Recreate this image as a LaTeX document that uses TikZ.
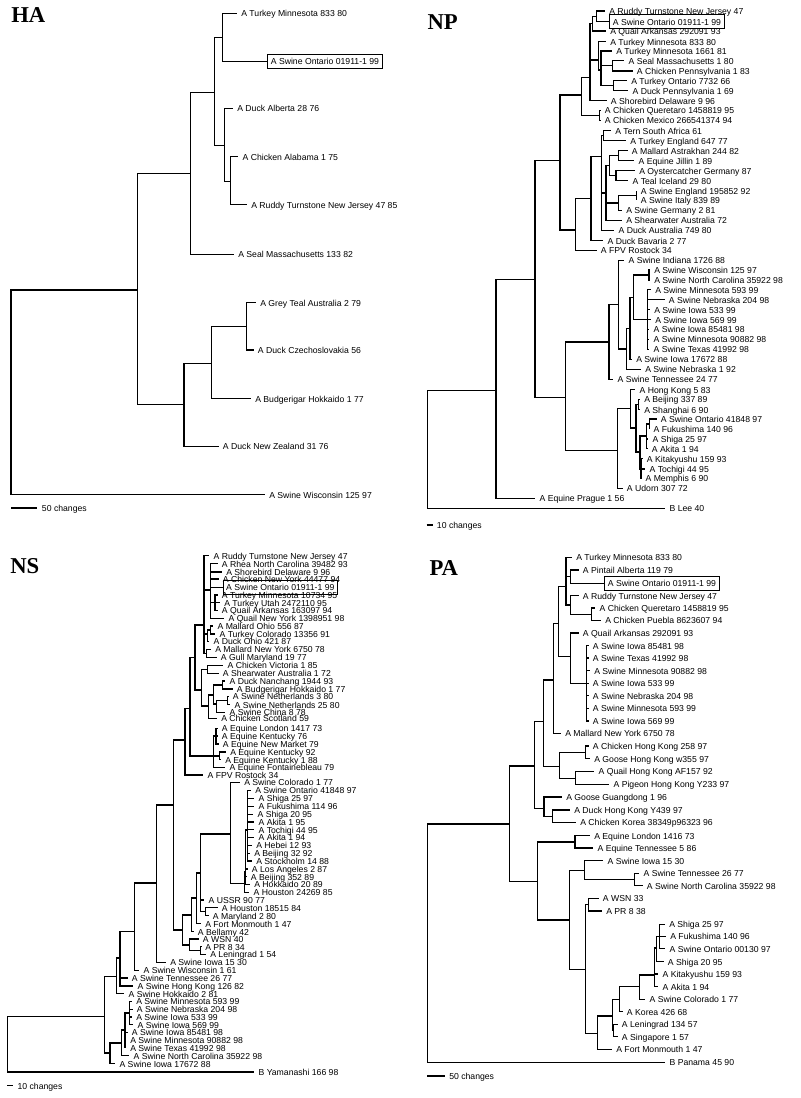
\documentclass[tikz,border=0pt]{standalone}
\usepackage{fontspec}
\setmainfont{Liberation Serif}
\setsansfont{Liberation Sans}
\newcommand{\leafFont}{\sffamily\fontsize{6.5}{7}\selectfont}
\newcommand{\ttlFont}{\rmfamily\bfseries\fontsize{17}{17}\selectfont}
\begin{document}
\begin{tikzpicture}[x=0.75pt, y=-0.75pt,
            br/.style={line width=0.8pt, black},
            leaf/.style={anchor=west, xshift=-3pt, inner xsep=3pt, inner ysep=0pt, font=\leafFont, text height=0.7em, text depth=0.15em},
            boxleaf/.style={anchor=west, draw, line width=0.5pt, inner xsep=2.4pt, inner ysep=0.9pt, font=\leafFont, text height=0.7em, text depth=0.15em},
            ttl/.style={anchor=base west, inner sep=0pt, font=\ttlFont},
        ]
        \useasboundingbox (0,0) rectangle (800,1098);
        \fill[white] (0,0) rectangle (800,1098);
        % Titles of the four panels
        \node[ttl] (haT) at (11,22.7) {HA};
        \node[ttl] (npT) at (427.3,29.3) {NP};
        \node[ttl] (nsT) at (10,573.3) {NS};
        \node[ttl] (paT) at (429.3,575) {PA};

        % ---------------- HA ----------------
        \node[leaf] (ha1) at (241,13.3) {A Turkey Minnesota 833 80};
        \node[boxleaf] (ha2) at (267.3,61.3) {A Swine Ontario 01911-1 99};
        \node[leaf] (ha3) at (237,108.3) {A Duck Alberta 28 76};
        \node[leaf] (ha4) at (242.3,156.7) {A Chicken Alabama 1 75};
        \node[leaf] (ha5) at (251,204.7) {A Ruddy Turnstone New Jersey 47 85};
        \node[leaf] (ha6) at (238,254.3) {A Seal Massachusetts 133 82};
        \node[leaf] (ha7) at (260,302.7) {A Grey Teal Australia 2 79};
        \node[leaf] (ha8) at (257.7,350) {A Duck Czechoslovakia 56};
        \node[leaf] (ha9) at (255,398.7) {A Budgerigar Hokkaido 1 77};
        \node[leaf] (ha10) at (222.7,446.3) {A Duck New Zealand 31 76};
        \node[leaf] (ha11) at (269,494.7) {A Swine Wisconsin 125 97};
        \coordinate (haR) at (11,392);
        \coordinate (haA) at (137.7,290);
        \coordinate (haB) at (190.3,173.7);
        \coordinate (haC) at (184,404.7);
        \coordinate (haD) at (214.3,92.3);
        \coordinate (haE) at (222.3,37.7);
        \coordinate (haF) at (224.3,145.7);
        \coordinate (haG) at (230.3,181.7);
        \coordinate (haH) at (211.3,363.3);
        \coordinate (haI) at (246.7,326.7);
        \foreach \p/\c in {haR/haA, haR/ha11, haA/haB, haA/haC, haB/haD, haB/ha6,
                haD/haE, haD/haF, haE/ha1, haE/ha2, haF/ha3, haF/haG, haG/ha4, haG/ha5,
                haC/haH, haC/ha10, haH/haI, haH/ha9, haI/ha7, haI/ha8}
            \draw[br] (\p) |- (\c);

        % ---------------- NP ----------------
        \node[leaf] (np1) at (609,11) {A Ruddy Turnstone New Jersey 47};
        \node[boxleaf] (np2) at (609.3,21.7) {A Swine Ontario 01911-1 99};
        \node[leaf] (np3) at (610,31) {A Quail Arkansas 292091 93};
        \node[leaf] (np4) at (610,41.7) {A Turkey Minnesota 833 80};
        \node[leaf] (np5) at (616,51) {A Turkey Minnesota 1661 81};
        \node[leaf] (np6) at (628.3,60.7) {A Seal Massachusetts 1 80};
        \node[leaf] (np7) at (636.7,71) {A Chicken Pennsylvania 1 83};
        \node[leaf] (np8) at (631,80.7) {A Turkey Ontario 7732 66};
        \node[leaf] (np9) at (632.3,90.7) {A Duck Pennsylvania 1 69};
        \node[leaf] (np10) at (610.7,100.7) {A Shorebird Delaware 9 96};
        \node[leaf] (np11) at (604.7,110.3) {A Chicken Queretaro 1458819 95};
        \node[leaf] (np12) at (604.7,120.3) {A Chicken Mexico 266541374 94};
        \node[leaf] (np13) at (615,130.7) {A Tern South Africa 61};
        \node[leaf] (np14) at (630,140.7) {A Turkey England 647 77};
        \node[leaf] (np15) at (631.7,150.7) {A Mallard Astrakhan 244 82};
        \node[leaf] (np16) at (638.3,160.7) {A Equine Jillin 1 89};
        \node[leaf] (np17) at (639,170.7) {A Oystercatcher Germany 87};
        \node[leaf] (np18) at (632.3,180.7) {A Teal Iceland 29 80};
        \node[leaf] (np19) at (640.7,190.7) {A Swine England 195852 92};
        \node[leaf] (np20) at (640.7,200.3) {A Swine Italy 839 89};
        \node[leaf] (np21) at (626,210.3) {A Swine Germany 2 81};
        \node[leaf] (np22) at (626,220.3) {A Shearwater Australia 72};
        \node[leaf] (np23) at (618.3,230.3) {A Duck Australia 749 80};
        \node[leaf] (np24) at (607.3,240.7) {A Duck Bavaria 2 77};
        \node[leaf] (np25) at (600.7,250.3) {A FPV Rostock 34};
        \node[leaf] (np26) at (628.3,260.3) {A Swine Indiana 1726 88};
        \node[leaf] (np27) at (654,270) {A Swine Wisconsin 125 97};
        \node[leaf] (np28) at (654,280) {A Swine North Carolina 35922 98};
        \node[leaf] (np29) at (655,289.7) {A Swine Minnesota 593 99};
        \node[leaf] (np30) at (668.7,299.7) {A Swine Nebraska 204 98};
        \node[leaf] (np31) at (654,309.7) {A Swine Iowa 533 99};
        \node[leaf] (np32) at (655,319.7) {A Swine Iowa 569 99};
        \node[leaf] (np33) at (653.3,329.3) {A Swine Iowa 85481 98};
        \node[leaf] (np34) at (653.3,339.3) {A Swine Minnesota 90882 98};
        \node[leaf] (np35) at (653.3,349.3) {A Swine Texas 41992 98};
        \node[leaf] (np36) at (636,359.3) {A Swine Iowa 17672 88};
        \node[leaf] (np37) at (645,369.3) {A Swine Nebraska 1 92};
        \node[leaf] (np38) at (617.3,379.3) {A Swine Tennessee 24 77};
        \node[leaf] (np39) at (639.3,389.7) {A Hong Kong 5 83};
        \node[leaf] (np40) at (644,399.3) {A Beijing 337 89};
        \node[leaf] (np41) at (644,409.7) {A Shanghai 6 90};
        \node[leaf] (np42) at (660.7,419) {A Swine Ontario 41848 97};
        \node[leaf] (np43) at (653.3,429) {A Fukushima 140 96};
        \node[leaf] (np44) at (652.3,439) {A Shiga 25 97};
        \node[leaf] (np45) at (651.7,448.7) {A Akita 1 94};
        \node[leaf] (np46) at (646.7,458.7) {A Kitakyushu 159 93};
        \node[leaf] (np47) at (649.3,469) {A Tochigi 44 95};
        \node[leaf] (np48) at (645.3,478.3) {A Memphis 6 90};
        \node[leaf] (np49) at (626.7,488.3) {A Udorn 307 72};
        \node[leaf] (np50) at (539.3,498.3) {A Equine Prague 1 56};
        \node[leaf] (np51) at (669.3,508.3) {B Lee 40};
        \coordinate (npR) at (427.3,450);
        \coordinate (npN1) at (496,390.7);
        \coordinate (npN2) at (535,279.3);
        \coordinate (npN3) at (560,160.7);
        \coordinate (npN4) at (565.7,397.3);
        \coordinate (npN5) at (581.7,95);
        \coordinate (npN6) at (575.7,230);
        \coordinate (npN7) at (590,77.7);
        \coordinate (npN8) at (599.5,115.3);
        \coordinate (npN9) at (592.7,23.3);
        \coordinate (npN10) at (596.7,16.4);
        \coordinate (npN11) at (598.3,60);
        \coordinate (npN12) at (601,70);
        \coordinate (npN13) at (612.3,65.8);
        \coordinate (npN14) at (613.3,85.7);
        \coordinate (npN15) at (591,198.3);
        \coordinate (npN16) at (603.5,135.7);
        \coordinate (npN17) at (601.7,156.7);
        \coordinate (npN18) at (606,193);
        \coordinate (npN19) at (609.3,165.7);
        \coordinate (npN20) at (618.3,203);
        \coordinate (npN21) at (618.3,155.7);
        \coordinate (npN22) at (616,175.7);
        \coordinate (npN23) at (636.7,195.5);
        \coordinate (npN24) at (609,342);
        \coordinate (npN25) at (617.3,450.7);
        \coordinate (npN26) at (618.3,304.6);
        \coordinate (npN27) at (626.7,349);
        \coordinate (npN28) at (630,328.4);
        \coordinate (npN29) at (633.3,297.5);
        \coordinate (npN30) at (649,275);
        \coordinate (npN31) at (647.5,319.5);
        \coordinate (npN32) at (630.7,408.9);
        \coordinate (npN33) at (636,428);
        \coordinate (npN34) at (638.7,404.5);
        \coordinate (npN35) at (646.7,436);
        \coordinate (npN37) at (649.3,424);
        \coordinate (npN38) at (641,469);
        \coordinate (npN39) at (640,452);
        \foreach \p/\c in {npR/npN1, npR/np51, npN1/npN2, npN1/np50, npN2/npN3, npN2/npN4,
                npN3/npN5, npN3/npN6, npN5/npN7, npN5/npN8, npN8/np11, npN8/np12,
                npN7/npN9, npN7/npN11, npN7/np10, npN9/npN10, npN9/np3, npN10/np1, npN10/np2,
                npN11/np4, npN11/npN12, npN12/np5, npN12/npN13, npN12/npN14,
                npN13/np6, npN13/np7, npN14/np8, npN14/np9,
                npN6/npN15, npN6/np25, npN15/npN17, npN15/np24, npN17/npN16, npN17/npN18, npN17/np23,
                npN16/np13, npN16/np14, npN18/npN19, npN18/npN20, npN18/np22,
                npN19/npN21, npN19/npN22, npN21/np15, npN21/np16, npN22/np17, npN22/np18,
                npN20/npN23, npN20/np21, npN23/np19, npN23/np20,
                npN4/npN24, npN4/npN25, npN24/npN26, npN24/np38, npN26/np26, npN26/npN27,
                npN27/npN28, npN27/np37, npN28/npN29, npN28/np36, npN29/npN30, npN29/npN31,
                npN30/np27, npN30/np28, npN31/np29, npN31/np30, npN31/np31, npN31/np32,
                npN31/np33, npN31/np34, npN31/np35,
                npN25/npN32, npN25/np49, npN32/np39, npN32/npN33, npN33/npN34, npN33/npN39,
                npN34/np40, npN34/np41, npN39/npN35, npN39/npN38, npN35/npN37, npN35/np44,
                npN35/np45, npN37/np42, npN37/np43, npN38/np46, npN38/np47, npN38/np48}
            \draw[br] (\p) |- (\c);

        % ---------------- NS ----------------
        \node[leaf] (ns1) at (213.3,555.7) {A Ruddy Turnstone New Jersey 47};
        \node[leaf] (ns2) at (221.7,563.7) {A Rhea North Carolina 39482 93};
        \node[leaf] (ns3) at (226,572) {A Shorebird Delaware 9 96};
        \node[leaf] (ns4) at (222.7,579) {A Chicken New York 44477 94};
        \node[boxleaf] (ns5) at (222.7,587.2) {A Swine Ontario 01911-1 99};
        \node[leaf] (ns6) at (221.7,595) {A Turkey Minnesota 10734 95};
        \node[leaf] (ns7) at (224,602.7) {A Turkey Utah 2472110 95};
        \node[leaf] (ns8) at (221.7,610.3) {A Quail Arkansas 163097 94};
        \node[leaf] (ns9) at (228.3,618.3) {A Quail New York 1398951 98};
        \node[leaf] (ns10) at (217.3,626) {A Mallard Ohio 556 87};
        \node[leaf] (ns11) at (219.3,634) {A Turkey Colorado 13356 91};
        \node[leaf] (ns12) at (213.3,641.3) {A Duck Ohio 421 87};
        \node[leaf] (ns13) at (215,649.3) {A Mallard New York 6750 78};
        \node[leaf] (ns14) at (220.7,657.3) {A Gull Maryland 19 77};
        \node[leaf] (ns15) at (227.3,665.3) {A Chicken Victoria 1 85};
        \node[leaf] (ns16) at (222.7,673.3) {A Shearwater Australia 1 72};
        \node[leaf] (ns17) at (229.3,681) {A Duck Nanchang 1944 93};
        \node[leaf] (ns18) at (236.7,689) {A Budgerigar Hokkaido 1 77};
        \node[leaf] (ns19) at (232.7,696.3) {A Swine Netherlands 3 80};
        \node[leaf] (ns20) at (234.3,704.7) {A Swine Netherlands 25 80};
        \node[leaf] (ns21) at (229.3,712.3) {A Swine China 8 78};
        \node[leaf] (ns22) at (221,718.3) {A Chicken Scotland 59};
        \node[leaf] (ns23) at (221.7,728.3) {A Equine London 1417 73};
        \node[leaf] (ns24) at (221.7,736) {A Equine Kentucky 76};
        \node[leaf] (ns25) at (222.7,744) {A Equine New Market 79};
        \node[leaf] (ns26) at (230,752) {A Equine Kentucky 92};
        \node[leaf] (ns27) at (225,759.7) {A Equine Kentucky 1 88};
        \node[leaf] (ns28) at (229.3,767.3) {A Equine Fontainebleau 79};
        \node[leaf] (ns29) at (207.3,775) {A FPV Rostock 34};
        \node[leaf] (ns30) at (244,782.3) {A Swine Colorado 1 77};
        \node[leaf] (ns31) at (255,790.3) {A Swine Ontario 41848 97};
        \node[leaf] (ns32) at (258.3,798.3) {A Shiga 25 97};
        \node[leaf] (ns33) at (258.3,806.3) {A Fukushima 114 96};
        \node[leaf] (ns34) at (257.3,814.3) {A Shiga 20 95};
        \node[leaf] (ns35) at (258.3,822) {A Akita 1 95};
        \node[leaf] (ns36) at (258.3,829.7) {A Tochigi 44 95};
        \node[leaf] (ns37) at (258.3,837.3) {A Akita 1 94};
        \node[leaf] (ns38) at (256,845.3) {A Hebei 12 93};
        \node[leaf] (ns39) at (254,853.3) {A Beijing 32 92};
        \node[leaf] (ns40) at (256,861) {A Stockholm 14 88};
        \node[leaf] (ns41) at (251.7,869) {A Los Angeles 2 87};
        \node[leaf] (ns42) at (250.7,876.7) {A Beijing 352 89};
        \node[leaf] (ns43) at (254,884.3) {A Hokkaido 20 89};
        \node[leaf] (ns44) at (253.3,892.3) {A Houston 24269 85};
        \node[leaf] (ns45) at (208.3,900) {A USSR 90 77};
        \node[leaf] (ns46) at (221.7,907.7) {A Houston 18515 84};
        \node[leaf] (ns47) at (212.7,915.7) {A Maryland 2 80};
        \node[leaf] (ns48) at (205,923.7) {A Fort Monmouth 1 47};
        \node[leaf] (ns49) at (197.7,931.7) {A Bellamy 42};
        \node[leaf] (ns50) at (202.7,939) {A WSN 40};
        \node[leaf] (ns51) at (205,946.7) {A PR 8 34};
        \node[leaf] (ns52) at (210,954.3) {A Leningrad 1 54};
        \node[leaf] (ns53) at (170,962.3) {A Swine Iowa 15 30};
        \node[leaf] (ns54) at (143.3,970.3) {A Swine Wisconsin 1 61};
        \node[leaf] (ns55) at (131.7,978) {A Swine Tennessee 26 77};
        \node[leaf] (ns56) at (137.3,986) {A Swine Hong Kong 126 82};
        \node[leaf] (ns57) at (128.3,993.7) {A Swine Hokkaido 2 81};
        \node[leaf] (ns58) at (136,1001.3) {A Swine Minnesota 593 99};
        \node[leaf] (ns59) at (136.7,1009.3) {A Swine Nebraska 204 98};
        \node[leaf] (ns60) at (136,1017) {A Swine Iowa 533 99};
        \node[leaf] (ns61) at (137.3,1024.7) {A Swine Iowa 569 99};
        \node[leaf] (ns62) at (131.7,1032.3) {A Swine Iowa 85481 98};
        \node[leaf] (ns63) at (130,1040.3) {A Swine Minnesota 90882 98};
        \node[leaf] (ns64) at (130,1047.7) {A Swine Texas 41992 98};
        \node[leaf] (ns65) at (133.3,1055.7) {A Swine North Carolina 35922 98};
        \node[leaf] (ns66) at (119.3,1063.7) {A Swine Iowa 17672 88};
        \node[leaf] (ns67) at (258.3,1072) {B Yamanashi 166 98};
        \coordinate (nsR) at (7.3,1044);
        \coordinate (nsN1) at (104.3,1016.7);
        \coordinate (nsN2) at (116.7,976.7);
        \coordinate (nsN3) at (110,1053);
        \coordinate (nsN3a) at (121.7,1043);
        \coordinate (nsN3b) at (125,1030);
        \coordinate (nsN3c) at (129.3,1013);
        \coordinate (nsN4) at (120,958);
        \coordinate (nsN5) at (134.3,931.7);
        \coordinate (nsN6) at (156.7,883);
        \coordinate (nsN7) at (173.3,805);
        \coordinate (nsN8) at (185,740);
        \coordinate (nsN9) at (182.7,930);
        \coordinate (nsN10) at (191.7,915);
        \coordinate (nsN11) at (189.3,945);
        \coordinate (nsN12) at (200.5,950.5);
        \coordinate (nsN13) at (196.7,898);
        \coordinate (nsN14) at (200.5,873);
        \coordinate (nsN15) at (230.7,834);
        \coordinate (nsN16) at (205.3,911.7);
        \coordinate (nsN17) at (244.7,883.3);
        \coordinate (nsN18) at (245.8,872);
        \coordinate (nsN19) at (247.5,830);
        \coordinate (nsN20) at (190,708.3);
        \coordinate (nsN22) at (213.3,756);
        \coordinate (nsN23) at (216,736);
        \coordinate (nsN24) at (219.3,756);
        \coordinate (nsNa) at (204,625);
        \coordinate (nsNb) at (210.7,590);
        \coordinate (nsNc) at (207.3,634);
        \coordinate (nsNd) at (206.7,653.3);
        \coordinate (nsNe) at (215,602.7);
        \coordinate (nsNf) at (210.7,630);
        \coordinate (nsNg) at (195,657.5);
        \coordinate (nsNh) at (201.7,690);
        \coordinate (nsNi) at (207.3,669.3);
        \coordinate (nsNj) at (208.3,706);
        \coordinate (nsNk) at (213.3,695);
        \coordinate (nsNl) at (222.7,685);
        \coordinate (nsNm) at (216.7,704);
        \coordinate (nsNn) at (227.5,700.5);
        \foreach \p/\c in {nsR/nsN1, nsR/ns67, nsN1/nsN2, nsN1/nsN3, nsN3/nsN3a, nsN3/ns66,
                nsN3a/nsN3b, nsN3a/ns65, nsN3b/nsN3c, nsN3b/ns62, nsN3b/ns63, nsN3b/ns64,
                nsN3c/ns58, nsN3c/ns59, nsN3c/ns60, nsN3c/ns61,
                nsN2/nsN4, nsN2/ns57, nsN4/nsN5, nsN4/ns55, nsN4/ns56, nsN5/nsN6, nsN5/ns54,
                nsN6/nsN7, nsN6/ns53, nsN7/nsN8, nsN7/nsN9, nsN8/nsN20, nsN8/ns29,
                nsN20/nsNg, nsN20/nsN22, nsNg/nsNa, nsNg/nsNh,
                nsNa/ns1, nsNa/nsNb, nsNa/nsNc, nsNa/nsNd,
                nsNb/ns2, nsNb/ns3, nsNb/ns4, nsNb/ns5, nsNb/nsNe, nsNb/ns9,
                nsNe/ns6, nsNe/ns7, nsNe/ns8, nsNc/nsNf, nsNc/ns12, nsNf/ns10, nsNf/ns11,
                nsNd/ns13, nsNd/ns14, nsNh/nsNi, nsNh/nsNj, nsNi/ns15, nsNi/ns16,
                nsNj/nsNk, nsNj/ns22, nsNk/nsNl, nsNk/nsNm, nsNl/ns17, nsNl/ns18,
                nsNm/nsNn, nsNm/ns21, nsNn/ns19, nsNn/ns20,
                nsN22/nsN23, nsN22/nsN24, nsN22/ns28, nsN23/ns23, nsN23/ns24, nsN23/ns25,
                nsN24/ns26, nsN24/ns27,
                nsN9/nsN10, nsN9/nsN11, nsN11/ns50, nsN11/nsN12, nsN12/ns51, nsN12/ns52,
                nsN10/nsN13, nsN10/ns49, nsN13/nsN14, nsN13/ns48,
                nsN14/nsN15, nsN14/ns45, nsN14/nsN16, nsN16/ns46, nsN16/ns47,
                nsN15/ns30, nsN15/nsN17, nsN17/nsN18, nsN17/ns44,
                nsN18/nsN19, nsN18/ns41, nsN18/ns42, nsN18/ns43,
                nsN19/ns31, nsN19/ns32, nsN19/ns33, nsN19/ns34, nsN19/ns35,
                nsN19/ns36, nsN19/ns37, nsN19/ns38, nsN19/ns39, nsN19/ns40}
            \draw[br] (\p) |- (\c);

        % ---------------- PA ----------------
        \node[leaf] (pa1) at (576,557.3) {A Turkey Minnesota 833 80};
        \node[leaf] (pa2) at (582.7,570) {A Pintail Alberta 119 79};
        \node[boxleaf] (pa3) at (604.3,583.3) {A Swine Ontario 01911-1 99};
        \node[leaf] (pa4) at (582.7,595.7) {A Ruddy Turnstone New Jersey 47};
        \node[leaf] (pa5) at (599.3,608) {A Chicken Queretaro 1458819 95};
        \node[leaf] (pa6) at (605,620.3) {A Chicken Puebla 8623607 94};
        \node[leaf] (pa7) at (582.7,633) {A Quail Arkansas 292091 93};
        \node[leaf] (pa8) at (592.7,645.7) {A Swine Iowa 85481 98};
        \node[leaf] (pa9) at (592.7,658) {A Swine Texas 41992 98};
        \node[leaf] (pa10) at (594,670.7) {A Swine Minnesota 90882 98};
        \node[leaf] (pa11) at (592.7,683.3) {A Swine Iowa 533 99};
        \node[leaf] (pa12) at (592.7,695.7) {A Swine Nebraska 204 98};
        \node[leaf] (pa13) at (592.7,708.3) {A Swine Minnesota 593 99};
        \node[leaf] (pa14) at (592.7,721) {A Swine Iowa 569 99};
        \node[leaf] (pa15) at (565,733.3) {A Mallard New York 6750 78};
        \node[leaf] (pa16) at (592.7,746) {A Chicken Hong Kong 258 97};
        \node[leaf] (pa17) at (594,758.7) {A Goose Hong Kong w355 97};
        \node[leaf] (pa18) at (598.3,771.3) {A Quail Hong Kong AF157 92};
        \node[leaf] (pa19) at (613.3,784.3) {A Pigeon Hong Kong Y233 97};
        \node[leaf] (pa20) at (566,797) {A Goose Guangdong 1 96};
        \node[leaf] (pa21) at (574,810) {A Duck Hong Kong Y439 97};
        \node[leaf] (pa22) at (580,822.3) {A Chicken Korea 38349p96323 96};
        \node[leaf] (pa23) at (594,835.7) {A Equine London 1416 73};
        \node[leaf] (pa24) at (597.3,848) {A Equine Tennessee 5 86};
        \node[leaf] (pa25) at (607.3,860.7) {A Swine Iowa 15 30};
        \node[leaf] (pa26) at (643.3,873.3) {A Swine Tennessee 26 77};
        \node[leaf] (pa27) at (646.7,885.7) {A Swine North Carolina 35922 98};
        \node[leaf] (pa28) at (602.7,898.3) {A WSN 33};
        \node[leaf] (pa29) at (606,911) {A PR 8 38};
        \node[leaf] (pa30) at (669,924.3) {A Shiga 25 97};
        \node[leaf] (pa31) at (670,936.3) {A Fukushima 140 96};
        \node[leaf] (pa32) at (669.3,948.7) {A Swine Ontario 00130 97};
        \node[leaf] (pa33) at (667.7,961.7) {A Shiga 20 95};
        \node[leaf] (pa34) at (662.3,974) {A Kitakyushu 159 93};
        \node[leaf] (pa35) at (662.3,986.7) {A Akita 1 94};
        \node[leaf] (pa36) at (649.3,999.3) {A Swine Colorado 1 77};
        \node[leaf] (pa37) at (626.7,1011.7) {A Korea 426 68};
        \node[leaf] (pa38) at (621.7,1024.3) {A Leningrad 134 57};
        \node[leaf] (pa39) at (621.7,1036.7) {A Singapore 1 57};
        \node[leaf] (pa40) at (616,1049.3) {A Fort Monmouth 1 47};
        \node[leaf] (pa41) at (669.3,1062.3) {B Panama 45 90};
        \coordinate (paR) at (427.3,943);
        \coordinate (paP1) at (509.3,824);
        \coordinate (paP2) at (534.3,766);
        \coordinate (paP3) at (543.3,721.7);
        \coordinate (paP4) at (544,808.3);
        \coordinate (paP5) at (553.3,680);
        \coordinate (paP6) at (559.3,766.7);
        \coordinate (paP7) at (558.3,623.3);
        \coordinate (paP8) at (566,586.7);
        \coordinate (paP9) at (570.7,656.7);
        \coordinate (paP10) at (570.7,576.7);
        \coordinate (paP11) at (570.7,605);
        \coordinate (paP12) at (591.7,614.2);
        \coordinate (paP13) at (586.7,683.3);
        \coordinate (paP14) at (585.3,752.3);
        \coordinate (paP15) at (575.3,778.3);
        \coordinate (paP16) at (552.7,816.2);
        \coordinate (paP17) at (537.7,881.7);
        \coordinate (paPe) at (575,842);
        \coordinate (paP18) at (569.3,920);
        \coordinate (paP19) at (584.7,870.7);
        \coordinate (paP20) at (585.3,969.3);
        \coordinate (paP21) at (634.3,879.5);
        \coordinate (paP22) at (588.3,904.7);
        \coordinate (paP23) at (597.3,1033.3);
        \coordinate (paP24) at (612.3,1016);
        \coordinate (paP25) at (619.3,999.3);
        \coordinate (paP26) at (613.3,1030.5);
        \coordinate (paP27) at (639.3,986.7);
        \coordinate (paP28) at (654.7,975);
        \coordinate (paP31) at (659.3,936.5);
        \coordinate (paP32) at (656.7,948);
        \foreach \p/\c in {paR/paP1, paR/pa41, paP1/paP2, paP1/paP17, paP2/paP3, paP2/paP4,
                paP3/paP5, paP3/paP6, paP5/paP7, paP5/pa15, paP7/paP8, paP7/paP9,
                paP8/pa1, paP8/paP10, paP8/paP11, paP10/pa2, paP10/pa3, paP11/pa4, paP11/paP12,
                paP12/pa5, paP12/pa6, paP9/pa7, paP9/paP13,
                paP13/pa8, paP13/pa9, paP13/pa10, paP13/pa11, paP13/pa12, paP13/pa13, paP13/pa14,
                paP6/paP14, paP6/paP15, paP14/pa16, paP14/pa17, paP15/pa18, paP15/pa19,
                paP4/pa20, paP4/paP16, paP16/pa21, paP16/pa22,
                paP17/paPe, paP17/paP18, paPe/pa23, paPe/pa24, paP18/paP19, paP18/paP20,
                paP19/pa25, paP19/paP21, paP21/pa26, paP21/pa27, paP20/paP22, paP20/paP23,
                paP22/pa28, paP22/pa29, paP23/paP24, paP23/pa40, paP24/paP25, paP24/paP26,
                paP26/pa38, paP26/pa39, paP25/paP27, paP25/pa37, paP27/paP28, paP27/pa36,
                paP28/paP32, paP28/pa34, paP28/pa35, paP32/paP31, paP32/pa33,
                paP31/pa30, paP31/pa31, paP31/pa32}
            \draw[br] (\p) |- (\c);

        % Scale bars
        \coordinate (haS0) at (11,508);
        \coordinate (haS1) at (37.3,508);
        \node[leaf] (haSc) at (41.7,508) {50 changes};
        \coordinate (npS0) at (426.7,525);
        \coordinate (npS1) at (432.7,525);
        \node[leaf] (npSc) at (436.7,525) {10 changes};
        \coordinate (nsS0) at (7.3,1085.7);
        \coordinate (nsS1) at (13.3,1085.7);
        \node[leaf] (nsSc) at (17.3,1085.7) {10 changes};
        \coordinate (paS0) at (427.3,1076);
        \coordinate (paS1) at (445,1076);
        \node[leaf] (paSc) at (449,1076) {50 changes};
        \foreach \a/\b in {haS0/haS1, npS0/npS1, nsS0/nsS1, paS0/paS1}
            \draw[br] (\a) -- (\b);
    \end{tikzpicture}
\end{document}
